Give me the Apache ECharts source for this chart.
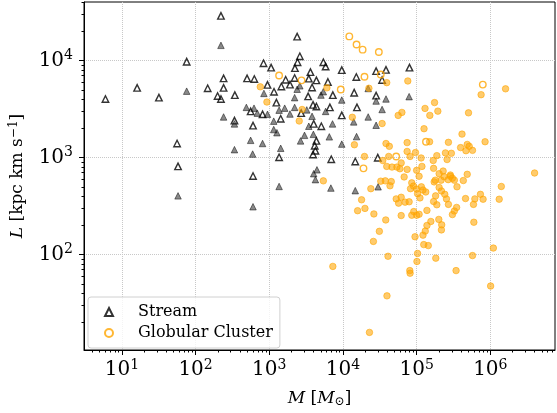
<!DOCTYPE html>
<html><head><meta charset="utf-8">
<script src="https://cdn.jsdelivr.net/npm/echarts@6/dist/echarts.min.js"></script>
<style>html,body{margin:0;padding:0;background:#fff}#c{width:557px;height:413px}</style>
</head><body><div id="c"></div>
<script>
// ---- data (M in solar masses, L in kpc km/s) ----
const streamOpenM = [221,2390,75.7,5.98,16.1,31.8,146,240,240,199,221,341,56.1,57.8,337,602,836,1060,500,627,946,1160,1250,559,811,1430,1360,602,1460,1670,1910,2210,2230,2420,2600,3620,3440,4360,3810,3370,5420,5820,3930,4360,2710,4010,4360,4140,4230,9640,15200,28200,38400,80000,34000,6250,7290,14200,28200,6650,15500,9640,5090,6940,14700,29700,3930];
const streamOpenL = [29000,17700,9770,4030,5250,4160,5200,6570,5250,4320,4030,4420,1400,813,2410,2140,9420,8490,6570,6480,5630,4790,3700,3000,2800,2520,1010,648,5420,6370,5670,6630,8380,9640,11100,7630,6530,6270,5290,4290,9640,8700,3500,3370,2880,2230,1490,1330,1180,8000,6790,7810,8050,8490,6330,6040,4420,4680,4360,3300,3300,2730,2110,963,913,1000,1080];
const streamFilledM = [221,75.7,240,337,337,559,595,811,489,621,688,846,946,1150,1150,1270,1430,1360,1620,1910,2210,2210,2390,2600,2660,3010,3440,3810,5030,5420,5820,3970,4440,4010,3230,57.8,602,1360,4230,79100,38400,28200,22000,9640,34000,22000,14000,7220,28200,15300,9640,6530,6860,14700,30000];
const streamFilledL = [14400,4850,2630,2230,1210,1510,1090,1400,3300,3240,2880,4600,2800,2380,1950,1810,1250,3090,3240,2820,3300,4160,5080,5510,1490,1700,2110,2670,4420,4790,3000,1740,750,684,3110,404,312,505,594,4260,4030,3840,5170,3930,3140,2630,2340,2230,2160,1650,1380,1640,486,457,501];
const gcOpenM = [1360,2740,12200,15300,18500,30700,19600,32600,9340,791000,134000,52800,19000];
const gcOpenL = [7050,6270,17800,14700,13000,12300,6840,7210,5050,5670,1460,1030,776];
const gcFilledM = [755,929,2790,2550,6060,22500,39300,75900,13400,34000,750000,1610000,130000,175000,151000,194000,56200,63100,506000,126000,413000,14300,38400,42600,74300,150000,270000,395000,486000,517000,573000,467000,849000,19600,34700,41800,74300,81500,96400,115000,61700,39300,46300,54000,59300,74300,100000,118000,168000,170000,188000,246000,296000,259000,229000,287000,486000,3990000,202000,5420,7290,17900,15800,19900,23900,26300,32600,37600,45300,43500,67700,85900,82600,108000,52800,61700,56900,69800,79100,90600,100000,116000,122000,133000,103000,111000,91400,85900,100000,108000,61700,138000,38100,31200,25900,40900,39600,22900,95100,122000,131000,138000,156000,125000,144000,103000,101000,80800,81500,182000,343000,573000,1010000,1100000,200000,219000,217000,179000,173000,215000,202000,236000,268000,287000,306000,325000,217000,241000,254000,181000,170000,188000,270000,353000,430000,349000,325000,306000,461000,617000,734000,798000,591000,598000,1320000,1410000];
const gcFilledL = [5380,3750,3140,2390,5250,5200,5940,6180,2610,2250,4460,5130,3220,3700,2730,3020,2730,2930,2900,1990,1750,1360,1400,1310,1430,1460,1440,1270,1370,1310,1190,1180,1460,1030,935,1030,1160,1030,1130,993,884,813,800,800,769,757,740,813,935,776,1050,1120,1110,957,728,663,674,695,684,577,75.7,368,284,300,479,263,573,577,567,513,633,550,479,643,376,391,340,348,351,510,475,501,464,443,426,385,278,255,255,261,253,286,228,174,137,96.3,37.6,15.8,153,159,175,200,220,127,124,103,85.1,68.5,64.4,92.0,68.5,97.9,47.5,117,231,203,180,586,563,586,493,637,594,643,614,586,454,419,376,404,353,327,330,501,581,307,282,259,379,376,419,373,330,216,373,505];

const xMajorTicks = [10,100,1000,10000,100000,1000000];
const yMajorTicks = [100,1000,10000];
const minorMantissas = [2,3,4,5,6,7,8,9];
const xDecades = [1,10,100,1000,10000,100000,1000000];
const yDecades = [10,100,1000,10000];
const xRange = [3.06, 7.55e6];
const yRange = [10.4, 40300];
const legendNames = ['Stream', 'Globular Cluster'];

function pairs(a, b) { return a.map((v, i) => [v, b[i]]); }
function minors(decades, range) {
  const out = [];
  decades.forEach(d => minorMantissas.forEach(m => { const v = d * m; if (v > range[0] && v < range[1]) out.push(v); }));
  return out;
}
const FONT = 'DejaVu Serif';
const labelRich = {
  b: { fontFamily: FONT, fontSize: 20, color: '#000', lineHeight: 22 },
  sup: { fontFamily: FONT, fontSize: 14, color: '#000', lineHeight: 14, padding: [0, 0, 10, 0] }
};
const powFmt = v => '{b|10}{sup|' + Math.round(Math.log10(v)) + '}';

const chart = echarts.init(document.getElementById('c'));
chart.setOption({
  animation: false,
  backgroundColor: '#fff',
  grid: { left: 79, right: 2, top: 2, bottom: 57, show: true, borderColor: '#000', borderWidth: 1, backgroundColor: 'transparent' },
  legend: {
    data: legendNames,
    orient: 'vertical', left: 88, top: 297,
    itemWidth: 8, itemHeight: 8, itemGap: 5,
    padding: [7, 7, 7, 16],
    borderColor: '#d0d0d0', borderWidth: 1, borderRadius: 3, backgroundColor: 'rgba(255,255,255,0.8)',
    textStyle: { fontFamily: FONT, fontSize: 16, color: '#000', lineHeight: 16, padding: [0, 0, 0, 20] }
  },
  xAxis: [{
    type: 'log', logBase: 10, min: xRange[0], max: xRange[1], position: 'bottom',
    axisLine: { show: true, lineStyle: { color: '#000', width: 1 } },
    axisTick: { show: true, inside: false, length: 5, lineStyle: { color: '#000' }, customValues: xMajorTicks },
    axisLabel: { customValues: xMajorTicks, formatter: powFmt, rich: labelRich, margin: 9 },
    splitLine: { show: true, lineStyle: { color: '#c8c8c8', type: 'dotted', width: 1 } },
    name: '{i|M} [{i|M}{sub|⊙}]', nameLocation: 'middle', nameGap: 40,
    nameTextStyle: { fontFamily: FONT, fontSize: 17, color: '#000',
      rich: { i: { fontFamily: FONT, fontStyle: 'italic', fontSize: 17 }, sub: { fontFamily: FONT, fontSize: 12, padding: [6, 0, 0, 0] } } }
  }, {
    type: 'log', logBase: 10, min: xRange[0], max: xRange[1], position: 'bottom',
    axisLine: { show: false },
    axisTick: { show: true, inside: false, length: 2.5, lineStyle: { color: '#000' }, customValues: minors(xDecades, xRange) },
    axisLabel: { show: false }, splitLine: { show: false }
  }],
  yAxis: [{
    type: 'log', logBase: 10, min: yRange[0], max: yRange[1], position: 'left',
    axisLine: { show: true, lineStyle: { color: '#000', width: 1 } },
    axisTick: { show: true, inside: false, length: 5, lineStyle: { color: '#000' }, customValues: yMajorTicks },
    axisLabel: { customValues: yMajorTicks, formatter: powFmt, rich: labelRich, margin: 11 },
    splitLine: { show: true, lineStyle: { color: '#c8c8c8', type: 'dotted', width: 1 } },
    name: '{i|L} [kpc km s{sup|−1}]', nameLocation: 'middle', nameGap: 56, nameRotate: 90,
    nameTextStyle: { fontFamily: FONT, fontSize: 17, color: '#000',
      rich: { i: { fontFamily: FONT, fontStyle: 'italic', fontSize: 17 }, sup: { fontFamily: FONT, fontSize: 12, padding: [0, 0, 8, 0] } } }
  }, {
    type: 'log', logBase: 10, min: yRange[0], max: yRange[1], position: 'left',
    axisLine: { show: false },
    axisTick: { show: true, inside: false, length: 2.5, lineStyle: { color: '#000' }, customValues: minors(yDecades, yRange) },
    axisLabel: { show: false }, splitLine: { show: false }
  }],
  series: [
    { type: 'scatter', name: 'Stream', data: pairs(streamOpenM, streamOpenL), symbol: 'triangle', symbolSize: 6.5, z: 3,
      itemStyle: { color: 'transparent', borderColor: '#000', borderWidth: 1.4 } },
    { type: 'scatter', name: 'Stream (filled)', data: pairs(streamFilledM, streamFilledL), symbol: 'triangle', symbolSize: 6.5, z: 2,
      itemStyle: { color: 'rgba(0,0,0,0.58)', borderColor: 'rgba(0,0,0,0.6)', borderWidth: 1 } },
    { type: 'scatter', name: 'Globular Cluster', data: pairs(gcOpenM, gcOpenL), symbol: 'circle', symbolSize: 6.5, z: 5,
      itemStyle: { color: 'transparent', borderColor: '#ffa500', borderWidth: 1.4 } },
    { type: 'scatter', name: 'Globular Cluster (filled)', data: pairs(gcFilledM, gcFilledL), symbol: 'circle', symbolSize: 6.5, z: 4,
      itemStyle: { color: 'rgba(255,165,0,0.72)', borderColor: 'rgba(255,165,0,0.72)', borderWidth: 1 } }
  ]
});
</script></body></html>
